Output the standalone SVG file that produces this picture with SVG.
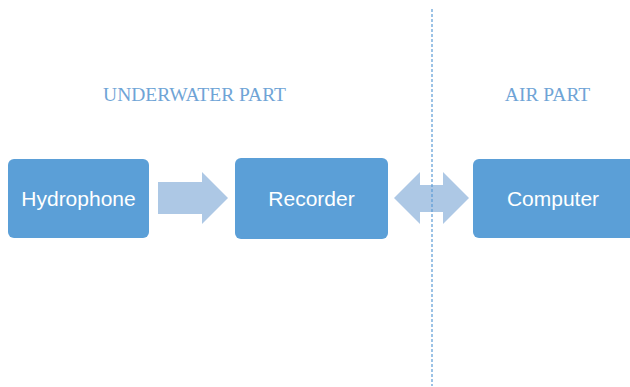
<svg xmlns="http://www.w3.org/2000/svg" width="630" height="387" viewBox="0 0 630 387">
<style>
.box{fill:#5B9FD7;}
.lbl{font-family:"Liberation Sans",Arial,sans-serif;font-size:21px;fill:#FFFFFF;text-anchor:middle;}
.part{font-family:"Liberation Serif","Times New Roman",serif;font-size:19.5px;fill:#6FA4D6;text-anchor:middle;}
.arr{fill:#ADC8E5;}
</style>
<rect width="630" height="387" fill="#FFFFFF"/>
<text class="part" x="194.5" y="101">UNDERWATER PART</text>
<text class="part" x="547.5" y="101">AIR PART</text>
<g id="connectors">
<polygon class="arr" points="158,182 202,182 202,172 228,198 202,224 202,214 158,214"/>
<polygon class="arr" points="394,198 420,172 420,185 443,185 443,172 469,198 443,224 443,212 420,212 420,224"/>
<line x1="432" y1="9" x2="432" y2="386" stroke="#5B9BD5" stroke-width="1.2" stroke-dasharray="3 2"/>
</g>
<g id="hydrophone">
<rect class="box" x="8" y="159" width="141" height="79" rx="6"/>
<text class="lbl" x="78.5" y="205.5">Hydrophone</text>
</g>
<g id="recorder">
<rect class="box" x="235" y="158" width="153" height="81" rx="6"/>
<text class="lbl" x="311.5" y="205.5">Recorder</text>
</g>
<g id="computer">
<rect class="box" x="473" y="159" width="163" height="79" rx="6"/>
<text class="lbl" x="553" y="205.5">Computer</text>
</g>
</svg>
